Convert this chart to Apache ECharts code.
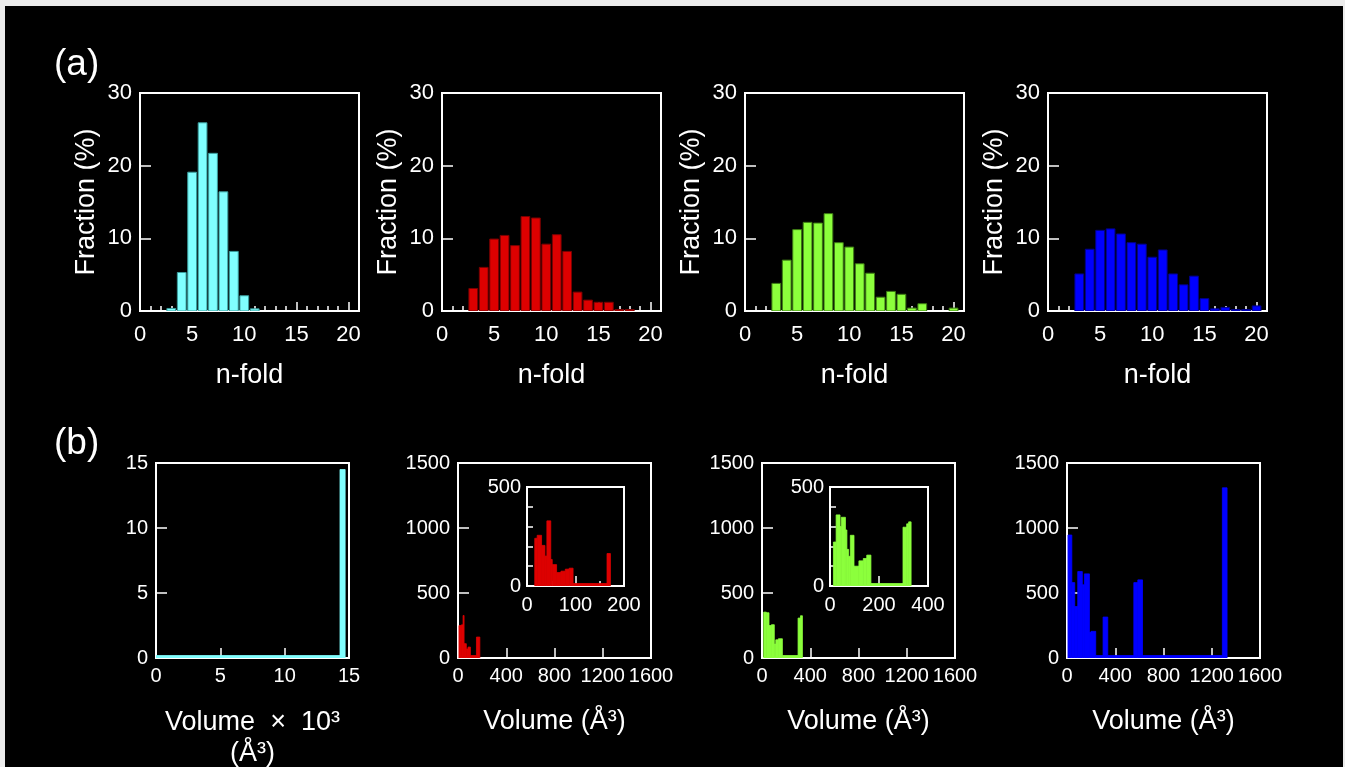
<!DOCTYPE html>
<html>
<head>
<meta charset="utf-8">
<script src="https://cdn.jsdelivr.net/npm/echarts@6/dist/echarts.min.js"></script>
<style>
  html, body { margin: 0; padding: 0; width: 1345px; height: 767px; overflow: hidden; background: #ececec; }
  #chart { position: absolute; left: 5px; top: 6px; width: 1338px; height: 761px; background: #000; }
</style>
</head>
<body>
<div id="chart"></div>
<script>
// ---- (a) n-fold distributions: fraction (%) for n = 1..20 ----
const nFold = [1, 2, 3, 4, 5, 6, 7, 8, 9, 10, 11, 12, 13, 14, 15, 16, 17, 18, 19, 20];
const fracCyan  = [0, 0, 0.35, 5.3, 19.1, 25.9, 21.7, 16.4, 8.2, 2.1, 0.3, 0, 0, 0, 0, 0, 0, 0, 0, 0];
const fracRed   = [0, 0, 3.1, 6.0, 9.9, 10.4, 9.0, 13.0, 12.8, 9.2, 10.5, 8.2, 2.6, 1.5, 1.2, 1.2, 0.2, 0.1, 0, 0];
const fracGreen = [0, 0, 3.8, 7.0, 11.2, 12.2, 12.1, 13.4, 9.4, 8.8, 6.5, 5.2, 1.9, 2.7, 2.3, 0.4, 1.0, 0, 0, 0.4];
const fracBlue  = [0, 0, 5.1, 8.5, 11.1, 11.3, 10.6, 9.4, 9.2, 7.4, 8.4, 5.1, 3.6, 4.8, 1.7, 0.3, 0.5, 0.1, 0.1, 0.7];

const nFoldTickLabels = [0, 5, 10, 15, 20];

// ---- (b) volume distributions: [bin start, bin end, count] ----
const volCyan = [[0, 14.3, 0], [14.3, 14.7, 14.5]];   // volume in 10^3 Å^3
const volRed = [[8, 28, 250], [28, 42, 255], [42, 50, 327], [50, 69, 110], [69, 83, 69], [83, 103, 84],
                [103, 153, 0], [153, 181, 161]];
const volRedZoom = [[16, 21, 241], [21, 30, 256], [30, 37, 205], [37, 41, 151], [41, 49, 329], [49, 52, 134],
                    [52, 61, 108], [61, 70, 68], [70, 79, 75], [79, 87, 85], [87, 95, 90], [95, 165, 0],
                    [165, 172, 164]];
const volGreen = [[14, 36, 353], [36, 58, 348], [58, 78, 250], [78, 102, 256], [102, 114, 107],
                  [114, 136, 140], [136, 169, 148], [169, 299, 0], [299, 319, 307], [319, 335, 325]];
const volGreenZoom = [[14, 25, 222], [25, 41, 359], [41, 46, 300], [46, 63, 347], [63, 69, 283], [69, 76, 185],
                      [76, 83, 150], [83, 98, 256], [98, 118, 100], [118, 136, 127], [136, 150, 139],
                      [150, 167, 156], [167, 298, 0], [298, 313, 297], [313, 321, 314], [321, 331, 324]];
const volBlue = [[8, 40, 946], [40, 64, 580], [64, 89, 396], [89, 127, 665], [127, 144, 563], [144, 186, 647],
                 [186, 199, 197], [199, 238, 205], [238, 299, 0], [299, 338, 315], [338, 554, 0],
                 [554, 587, 580], [587, 626, 601], [626, 1288, 0], [1288, 1327, 1309]];

const volumeTicks = [0, 400, 800, 1200, 1600];
const countTicks = [0, 500, 1000, 1500];

// ---- styling ----
const FONT = '"Liberation Sans", Arial, Helvetica, sans-serif';
const WHITE = '#ffffff';
const COLORS = {
  cyan:  { fill: '#80ffff', edge: '#3a9c9c' },
  red:   { fill: '#dd0000', edge: '#7a0000' },
  green: { fill: '#8cff3c', edge: '#3d7a14' },
  blue:  { fill: '#0000ff', edge: '#00008a' }
};
const BAR_HALF = 0.42;   // half bar width in n-fold units
const plain = function (v) { return String(v); };

const grids = [], xAxes = [], yAxes = [], series = [];

// fixed plot boxes: no automatic shrinking to fit names/labels
function addGrid(box, bg) {
  grids.push(Object.assign({
    show: true, borderColor: WHITE, borderWidth: 2, backgroundColor: bg || 'transparent',
    containLabel: false, outerBoundsMode: 'none'
  }, box));
  return grids.length - 1;
}

function axisBase(extra) {
  return Object.assign({
    type: 'value',
    axisLine: { show: false },
    splitLine: { show: false },
    axisTick: { inside: true, lineStyle: { color: WHITE, width: 1.5 } },
    axisLabel: { color: WHITE, fontFamily: FONT, formatter: plain }
  }, extra);
}

function ticks(length, values) {
  const t = { inside: true, length: length, lineStyle: { color: WHITE, width: 1.5 } };
  if (values) t.customValues = values;
  return t;
}
function labels(size, margin, values) {
  const l = { color: WHITE, fontFamily: FONT, fontSize: size, margin: margin, formatter: plain };
  if (values) l.customValues = values;
  return l;
}
function title(size, extra) {
  return Object.assign({ color: WHITE, fontFamily: FONT, fontSize: size }, extra || {});
}

// bar for one n-fold value
function nFoldRenderer(col) {
  return function (params, api) {
    const n = api.value(0), v = api.value(1);
    if (!(v > 0)) return null;
    const a = api.coord([n - BAR_HALF, v]);
    const b = api.coord([n + BAR_HALF, 0]);
    const top = Math.min(a[1], b[1] - 1.5);
    return {
      type: 'rect',
      shape: { x: a[0], y: top, width: b[0] - a[0], height: b[1] - top },
      style: { fill: col.fill, stroke: col.edge, lineWidth: 1 }
    };
  };
}

// histogram bin [start, end, count]; empty bins still show as a thin baseline
function binRenderer(col) {
  return function (params, api) {
    const a = api.coord([api.value(0), api.value(2)]);
    const b = api.coord([api.value(1), 0]);
    const top = Math.min(a[1], b[1] - 2.5);
    return {
      type: 'rect',
      shape: { x: a[0], y: top, width: Math.max(b[0] - a[0], 1), height: b[1] - top + 1 },
      style: { fill: col.fill, stroke: col.fill, lineWidth: 0.8 }
    };
  };
}

// ---- row (a) ----
const topLefts = [135, 437, 740, 1043];
const topFracs = [fracCyan, fracRed, fracGreen, fracBlue];
const topCols = [COLORS.cyan, COLORS.red, COLORS.green, COLORS.blue];

topLefts.forEach(function (left, i) {
  const g = addGrid({ left: left, top: 87, width: 219, height: 218 });
  const xMain = xAxes.length;
  xAxes.push(axisBase({
    gridIndex: g, position: 'bottom', min: 0, max: 21, interval: 5,
    name: 'n-fold', nameLocation: 'middle', nameGap: 51,
    nameTextStyle: title(27),
    axisTick: ticks(9, nFoldTickLabels),
    axisLabel: labels(22, 13, nFoldTickLabels)
  }));
  // unit ticks along the n-fold axis
  xAxes.push(axisBase({
    gridIndex: g, position: 'bottom', min: 0, max: 21, interval: 1,
    axisTick: ticks(5, nFold),
    axisLabel: { show: false }
  }));
  const yi = yAxes.length;
  yAxes.push(axisBase({
    gridIndex: g, position: 'left', min: 0, max: 30, interval: 10,
    name: 'Fraction (%)', nameLocation: 'middle', nameGap: 40, nameRotate: 90,
    nameTextStyle: title(27),
    axisTick: ticks(11),
    axisLabel: labels(22, 8)
  }));
  series.push({
    type: 'custom', xAxisIndex: xMain, yAxisIndex: yi, clip: true,
    renderItem: nFoldRenderer(topCols[i]),
    data: nFold.map(function (n, k) { return [n, topFracs[i][k]]; })
  });
});

// ---- row (b) ----
const botLefts = [151, 453, 757, 1062];

function addVolumePanel(left, xCfg, yCfg, bins, col) {
  const g = addGrid({ left: left, top: 457, width: 193, height: 195 });
  const xi = xAxes.length;
  xAxes.push(axisBase(Object.assign({ gridIndex: g, position: 'bottom' }, xCfg)));
  const yi = yAxes.length;
  yAxes.push(axisBase(Object.assign({ gridIndex: g, position: 'left' }, yCfg)));
  series.push({ type: 'custom', xAxisIndex: xi, yAxisIndex: yi, clip: true, renderItem: binRenderer(col), data: bins });
}

const volName = 'Volume (Å³)';
function volX(name) {
  return {
    min: 0, max: 1600, interval: 400,
    name: name, nameLocation: 'middle', nameGap: 50,
    nameTextStyle: title(27),
    axisTick: ticks(10),
    axisLabel: labels(20, 8, volumeTicks)
  };
}
const countY = {
  min: 0, max: 1500, interval: 500,
  axisTick: ticks(11),
  axisLabel: labels(20, 8, countTicks)
};

addVolumePanel(botLefts[0], {
  min: 0, max: 15, interval: 5,
  name: 'Volume  ×  10³\n(Å³)', nameLocation: 'middle', nameGap: 49,
  nameTextStyle: title(27, { lineHeight: 31 }),
  axisTick: ticks(10),
  axisLabel: labels(20, 8)
}, {
  min: 0, max: 15, interval: 5,
  axisTick: ticks(11),
  axisLabel: labels(20, 8)
}, volCyan, COLORS.cyan);

addVolumePanel(botLefts[1], volX(volName), countY, volRed, COLORS.red);
addVolumePanel(botLefts[2], volX(volName), countY, volGreen, COLORS.green);
addVolumePanel(botLefts[3], volX(volName), countY, volBlue, COLORS.blue);

// ---- insets: low-volume detail ----
function addInset(left, width, xMax, bins, col) {
  const g = addGrid({ left: left, top: 481, width: width, height: 99 }, '#000');
  const xi = xAxes.length;
  const half = xMax / 2;
  xAxes.push(axisBase({
    gridIndex: g, position: 'bottom', min: 0, max: xMax, interval: half,
    axisTick: ticks(10, [half]),
    axisLabel: labels(20, 9, [0, half, xMax])
  }));
  xAxes.push(axisBase({
    gridIndex: g, position: 'bottom', min: 0, max: xMax, interval: half / 2,
    axisTick: ticks(5, [half / 2, half * 1.5]),
    axisLabel: { show: false }
  }));
  const yi = yAxes.length;
  yAxes.push(axisBase({
    gridIndex: g, position: 'left', min: 0, max: 500, interval: 100,
    axisTick: ticks(6, [100, 200, 300, 400]),
    axisLabel: labels(20, 6, [0, 500])
  }));
  series.push({ type: 'custom', xAxisIndex: xi, yAxisIndex: yi, clip: true, z: 5, renderItem: binRenderer(col), data: bins });
}
addInset(522, 97, 200, volRedZoom, COLORS.red);
addInset(825, 98, 400, volGreenZoom, COLORS.green);

const chart = echarts.init(document.getElementById('chart'), null, { renderer: 'canvas' });
chart.setOption({
  backgroundColor: '#000',
  animation: false,
  grid: grids,
  xAxis: xAxes,
  yAxis: yAxes,
  series: series,
  graphic: [
    { type: 'text', left: 49, top: 40, style: { text: '(a)', fill: WHITE, font: '37px ' + FONT } },
    { type: 'text', left: 49, top: 419, style: { text: '(b)', fill: WHITE, font: '37px ' + FONT } }
  ]
});
</script>
</body>
</html>
